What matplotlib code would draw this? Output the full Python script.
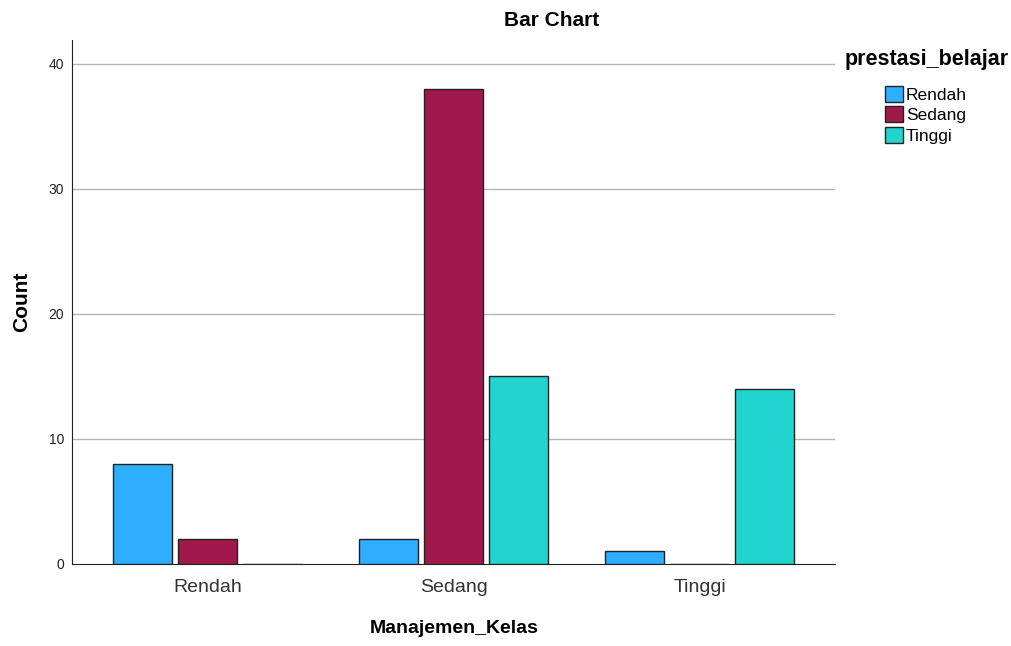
import numpy as np
from matplotlib import pyplot as plt
from matplotlib.patches import Patch

plt.rcParams['font.family'] = ['Liberation Sans', 'DejaVu Sans']

# data
groups = ['Rendah', 'Sedang', 'Tinggi']          # Manajemen_Kelas
series = ['Rendah', 'Sedang', 'Tinggi']          # prestasi_belajar
rendah = [8, 2, 1]
sedang = [2, 38, 0]
tinggi = [0, 15, 14]

colors = {'Rendah': '#2FADFF', 'Sedang': '#A0194A', 'Tinggi': '#22D4D0'}

fig = plt.figure(figsize=(10.11, 6.46), dpi=100)
ax = fig.add_axes([0.0717, 0.127, 0.7543, 0.811])

x = np.arange(len(groups))
width = 0.24
step = 0.265
for i, (name, vals) in enumerate(zip(series, [rendah, sedang, tinggi])):
    ax.bar(x + (i - 1) * step, vals, width, color=colors[name],
           edgecolor='#222222', linewidth=1.0, zorder=3, label=name)

ax.set_xlim(-0.55, 2.55)
ax.set_ylim(0, 41.9)
ax.set_yticks([0, 10, 20, 30, 40])
ax.set_xticks(x)
ax.set_xticklabels(groups, fontsize=14, color='#333333')
ax.tick_params(axis='x', length=0, pad=11)
ax.tick_params(axis='y', length=0, labelsize=10, colors='#222222', pad=6)
ax.grid(axis='y', color='#B4B4B4', linewidth=1.0, zorder=0)
for g in ax.get_ygridlines()[:1]:
    g.set_visible(False)

for s in ['top', 'right']:
    ax.spines[s].set_visible(False)
ax.spines['left'].set_color('#222222')
ax.spines['bottom'].set_color('#222222')

ax.set_ylabel('Count', fontsize=15, fontweight='bold')
ax.set_xlabel('Manajemen_Kelas', fontsize=14, fontweight='bold', labelpad=17)
ax.yaxis.set_label_coords(-0.054, 0.5)
fig.text(552 / 1011, 1 - 20 / 646, 'Bar Chart', fontsize=15, fontweight='bold',
         ha='center', va='center')

# legend: title placed separately, entries below
fig.text(845 / 1011, 1 - 60 / 646, 'prestasi_belajar', fontsize=15.5,
         fontweight='bold', ha='left', va='center')
handles = [Patch(facecolor=colors[s], edgecolor='#222222', label=s) for s in series]
fig.legend(handles=handles, loc='upper left',
           bbox_to_anchor=(871 / 1011, 1 - 72 / 646), frameon=False,
           fontsize=12.5, handlelength=1.05, handleheight=1.05,
           handletextpad=0.15, labelspacing=0.2, borderpad=0.3)

plt.savefig('out.png', dpi=100)
